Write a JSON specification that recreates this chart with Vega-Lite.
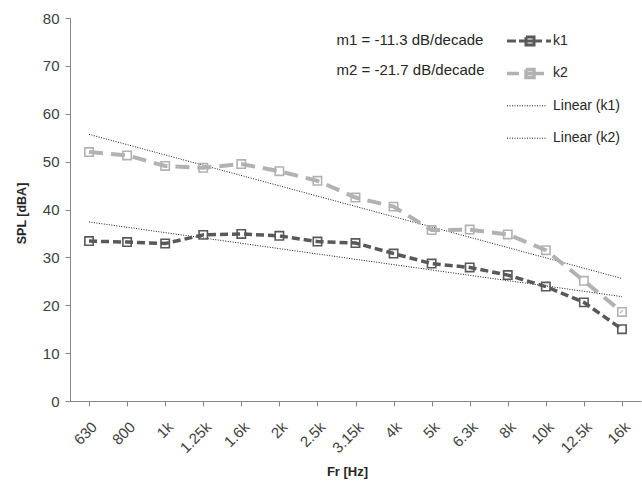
{
  "$schema": "https://vega.github.io/schema/vega-lite/v6.json",
  "width": 571,
  "height": 383,
  "autosize": {"type": "none"},
  "padding": {"left": 70, "top": 18, "right": 1, "bottom": 82},
  "background": "white",
  "config": {
    "view": {"stroke": null},
    "font": "Liberation Sans",
    "axis": {
      "grid": false,
      "domainColor": "#868686",
      "tickColor": "#868686",
      "labelColor": "#404040",
      "titleColor": "#262626",
      "labelFont": "Liberation Sans",
      "titleFont": "Liberation Sans"
    }
  },
  "datasets": {
    "series": [
      {"f": "630", "series": "k1", "v": 33.4},
      {"f": "800", "series": "k1", "v": 33.2},
      {"f": "1k", "series": "k1", "v": 32.9},
      {"f": "1.25k", "series": "k1", "v": 34.7},
      {"f": "1.6k", "series": "k1", "v": 34.9},
      {"f": "2k", "series": "k1", "v": 34.5},
      {"f": "2.5k", "series": "k1", "v": 33.3},
      {"f": "3.15k", "series": "k1", "v": 33.0},
      {"f": "4k", "series": "k1", "v": 30.8},
      {"f": "5k", "series": "k1", "v": 28.7},
      {"f": "6.3k", "series": "k1", "v": 27.9},
      {"f": "8k", "series": "k1", "v": 26.3},
      {"f": "10k", "series": "k1", "v": 23.9},
      {"f": "12.5k", "series": "k1", "v": 20.6},
      {"f": "16k", "series": "k1", "v": 15.0},
      {"f": "630", "series": "k2", "v": 52.0},
      {"f": "800", "series": "k2", "v": 51.3},
      {"f": "1k", "series": "k2", "v": 49.1},
      {"f": "1.25k", "series": "k2", "v": 48.7},
      {"f": "1.6k", "series": "k2", "v": 49.5},
      {"f": "2k", "series": "k2", "v": 48.0},
      {"f": "2.5k", "series": "k2", "v": 46.0},
      {"f": "3.15k", "series": "k2", "v": 42.5},
      {"f": "4k", "series": "k2", "v": 40.6},
      {"f": "5k", "series": "k2", "v": 35.7},
      {"f": "6.3k", "series": "k2", "v": 35.8},
      {"f": "8k", "series": "k2", "v": 34.8},
      {"f": "10k", "series": "k2", "v": 31.5},
      {"f": "12.5k", "series": "k2", "v": 25.1},
      {"f": "16k", "series": "k2", "v": 18.6},
      {"f": "630", "series": "Linear (k1)", "v": 37.4},
      {"f": "16k", "series": "Linear (k1)", "v": 21.8},
      {"f": "630", "series": "Linear (k2)", "v": 55.7},
      {"f": "16k", "series": "Linear (k2)", "v": 25.6}
    ],
    "notes": [
      {"f": "3.15k", "v": 75.4, "label": "m1 = -11.3 dB/decade"},
      {"f": "3.15k", "v": 69.1, "label": "m2 = -21.7 dB/decade"}
    ]
  },
  "encoding": {
    "x": {
      "field": "f",
      "type": "ordinal",
      "sort": ["630", "800", "1k", "1.25k", "1.6k", "2k", "2.5k", "3.15k", "4k", "5k", "6.3k", "8k", "10k", "12.5k", "16k"],
      "scale": {"type": "point", "padding": 0.5},
      "axis": {
        "title": "Fr [Hz]",
        "titleFontSize": 13,
        "titleFontWeight": "bold",
        "titleX": 277,
        "titleY": 70,
        "titleBaseline": "middle",
        "labelAngle": -45,
        "labelFontSize": 15,
        "labelBaseline": "top",
        "labelAlign": "right",
        "labelPadding": 13,
        "labelDx": -4,
        "tickSize": 5
      }
    },
    "y": {
      "field": "v",
      "type": "quantitative",
      "scale": {"domain": [0, 80], "nice": false},
      "axis": {
        "title": "SPL [dBA]",
        "titleFontSize": 12.5,
        "titleFontWeight": "bold",
        "titleX": -49,
        "titleY": 195,
        "titleBaseline": "middle",
        "titleAlign": "center",
        "titleAngle": -90,
        "values": [0, 10, 20, 30, 40, 50, 60, 70, 80],
        "labelFontSize": 15,
        "labelPadding": 6,
        "tickSize": 5
      }
    },
    "color": {
      "field": "series",
      "type": "nominal",
      "scale": {
        "domain": ["k1", "k2", "Linear (k1)", "Linear (k2)"],
        "range": ["#595959", "#b2b2b2", "#1a1a1a", "#1a1a1a"]
      },
      "legend": {
        "orient": "none",
        "legendX": 453,
        "legendY": 16,
        "title": null,
        "symbolSize": 400,
        "labelFontSize": 14,
        "labelColor": "#262626",
        "rowPadding": 10.4,
        "gridAlign": "all",
        "labelOffset": 16,
        "encode": {
          "symbols": {
            "update": {
              "shape": {"signal": "datum.value === 'k1' ? 'M-2.3,0H-1.4M-1.1,0H-0.5M-0.4,-0.4H0.4V0.4H-0.4ZM-0.4,0H0.4M0.5,0H1.2M1.6,0H2.1' : datum.value === 'k2' ? 'M-2.3,0H-1.1M-0.4,-0.4H0.4V0.4H-0.4ZM-0.4,0H1.4' : 'M-2.3,0H1.7'"},
              "strokeWidth": {"signal": "datum.value === 'k1' ? 3 : datum.value === 'k2' ? 3.5 : 1"},
              "strokeDash": {"signal": "indexof(datum.value, 'Linear') === 0 ? [1, 1.5] : [200, 0]"},
              "fill": {"value": "transparent"},
              "stroke": {"signal": "scale('color', datum.value)"},
              "opacity": {"value": 1}
            }
          }
        }
      }
    }
  },
  "layer": [
    {
      "data": {"name": "series"},
      "transform": [{"filter": "indexof(datum.series, 'Linear') === 0"}],
      "mark": {"type": "line", "strokeWidth": 1, "strokeDash": [1, 1.5]},
      "encoding": {"detail": {"field": "series"}}
    },
    {
      "data": {"name": "series"},
      "transform": [{"filter": "datum.series === 'k2'"}],
      "mark": {"type": "line", "strokeWidth": 4, "strokeDash": [14, 8]}
    },
    {
      "data": {"name": "series"},
      "transform": [{"filter": "datum.series === 'k1'"}],
      "mark": {"type": "line", "strokeWidth": 3.5, "strokeDash": [8, 4]}
    },
    {
      "data": {"name": "series"},
      "transform": [{"filter": "indexof(datum.series, 'Linear') < 0"}],
      "mark": {"type": "point", "shape": "square", "filled": false, "size": 70, "strokeWidth": 1.6, "opacity": 1}
    },
    {
      "data": {"name": "notes"},
      "mark": {"type": "text", "align": "left", "baseline": "middle", "dx": -19, "fontSize": 15, "color": "#262626"},
      "encoding": {
        "text": {"field": "label"},
        "color": {"value": "#262626"}
      }
    }
  ]
}
